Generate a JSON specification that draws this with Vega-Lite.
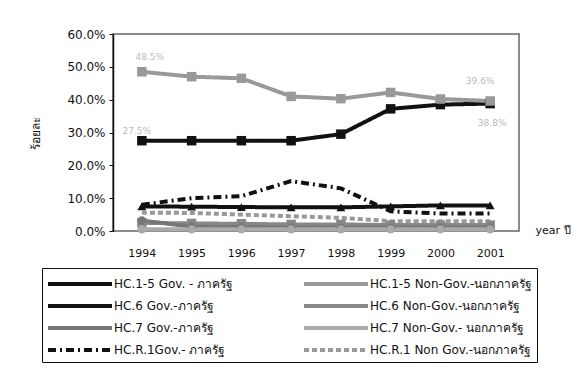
{
  "$schema": "https://vega.github.io/schema/vega-lite/v6.json",
  "autosize": "none",
  "width": 406,
  "height": 197,
  "padding": {"left": 113, "top": 34, "right": 60, "bottom": 159},
  "background": "white",
  "config": {
    "font": "DejaVu Sans",
    "view": {"stroke": "#666", "strokeWidth": 1.5},
    "axis": {"labelFont": "DejaVu Sans", "titleFont": "DejaVu Sans", "grid": false}
  },
  "data": {
    "values": [
      {"year": "1994", "series": "HC.1-5 Gov. - ภาครัฐ", "value": 27.5},
      {"year": "1995", "series": "HC.1-5 Gov. - ภาครัฐ", "value": 27.5},
      {"year": "1996", "series": "HC.1-5 Gov. - ภาครัฐ", "value": 27.5},
      {"year": "1997", "series": "HC.1-5 Gov. - ภาครัฐ", "value": 27.5},
      {"year": "1998", "series": "HC.1-5 Gov. - ภาครัฐ", "value": 29.5},
      {"year": "1999", "series": "HC.1-5 Gov. - ภาครัฐ", "value": 37.2},
      {"year": "2000", "series": "HC.1-5 Gov. - ภาครัฐ", "value": 38.5},
      {"year": "2001", "series": "HC.1-5 Gov. - ภาครัฐ", "value": 38.8},
      {"year": "1994", "series": "HC.1-5 Non-Gov.-นอกภาครัฐ", "value": 48.5},
      {"year": "1995", "series": "HC.1-5 Non-Gov.-นอกภาครัฐ", "value": 47.0},
      {"year": "1996", "series": "HC.1-5 Non-Gov.-นอกภาครัฐ", "value": 46.5},
      {"year": "1997", "series": "HC.1-5 Non-Gov.-นอกภาครัฐ", "value": 41.0},
      {"year": "1998", "series": "HC.1-5 Non-Gov.-นอกภาครัฐ", "value": 40.3},
      {"year": "1999", "series": "HC.1-5 Non-Gov.-นอกภาครัฐ", "value": 42.2},
      {"year": "2000", "series": "HC.1-5 Non-Gov.-นอกภาครัฐ", "value": 40.2},
      {"year": "2001", "series": "HC.1-5 Non-Gov.-นอกภาครัฐ", "value": 39.6},
      {"year": "1994", "series": "HC.6 Gov.-ภาครัฐ", "value": 7.5},
      {"year": "1995", "series": "HC.6 Gov.-ภาครัฐ", "value": 7.4},
      {"year": "1996", "series": "HC.6 Gov.-ภาครัฐ", "value": 7.3},
      {"year": "1997", "series": "HC.6 Gov.-ภาครัฐ", "value": 7.2},
      {"year": "1998", "series": "HC.6 Gov.-ภาครัฐ", "value": 7.2},
      {"year": "1999", "series": "HC.6 Gov.-ภาครัฐ", "value": 7.5},
      {"year": "2000", "series": "HC.6 Gov.-ภาครัฐ", "value": 7.8},
      {"year": "2001", "series": "HC.6 Gov.-ภาครัฐ", "value": 7.8},
      {"year": "1994", "series": "HC.6 Non-Gov.-นอกภาครัฐ", "value": 2.5},
      {"year": "1995", "series": "HC.6 Non-Gov.-นอกภาครัฐ", "value": 2.3},
      {"year": "1996", "series": "HC.6 Non-Gov.-นอกภาครัฐ", "value": 2.2},
      {"year": "1997", "series": "HC.6 Non-Gov.-นอกภาครัฐ", "value": 2.0},
      {"year": "1998", "series": "HC.6 Non-Gov.-นอกภาครัฐ", "value": 2.0},
      {"year": "1999", "series": "HC.6 Non-Gov.-นอกภาครัฐ", "value": 1.8},
      {"year": "2000", "series": "HC.6 Non-Gov.-นอกภาครัฐ", "value": 1.8},
      {"year": "2001", "series": "HC.6 Non-Gov.-นอกภาครัฐ", "value": 1.8},
      {"year": "1994", "series": "HC.7 Gov.-ภาครัฐ", "value": 3.2},
      {"year": "1995", "series": "HC.7 Gov.-ภาครัฐ", "value": 1.3},
      {"year": "1996", "series": "HC.7 Gov.-ภาครัฐ", "value": 1.2},
      {"year": "1997", "series": "HC.7 Gov.-ภาครัฐ", "value": 1.0},
      {"year": "1998", "series": "HC.7 Gov.-ภาครัฐ", "value": 1.0},
      {"year": "1999", "series": "HC.7 Gov.-ภาครัฐ", "value": 1.0},
      {"year": "2000", "series": "HC.7 Gov.-ภาครัฐ", "value": 1.0},
      {"year": "2001", "series": "HC.7 Gov.-ภาครัฐ", "value": 1.0},
      {"year": "1994", "series": "HC.7 Non-Gov.- นอกภาครัฐ", "value": 0.5},
      {"year": "1995", "series": "HC.7 Non-Gov.- นอกภาครัฐ", "value": 0.5},
      {"year": "1996", "series": "HC.7 Non-Gov.- นอกภาครัฐ", "value": 0.5},
      {"year": "1997", "series": "HC.7 Non-Gov.- นอกภาครัฐ", "value": 0.5},
      {"year": "1998", "series": "HC.7 Non-Gov.- นอกภาครัฐ", "value": 0.5},
      {"year": "1999", "series": "HC.7 Non-Gov.- นอกภาครัฐ", "value": 0.5},
      {"year": "2000", "series": "HC.7 Non-Gov.- นอกภาครัฐ", "value": 0.5},
      {"year": "2001", "series": "HC.7 Non-Gov.- นอกภาครัฐ", "value": 0.5},
      {"year": "1994", "series": "HC.R.1Gov.- ภาครัฐ", "value": 8.0},
      {"year": "1995", "series": "HC.R.1Gov.- ภาครัฐ", "value": 10.0},
      {"year": "1996", "series": "HC.R.1Gov.- ภาครัฐ", "value": 10.6},
      {"year": "1997", "series": "HC.R.1Gov.- ภาครัฐ", "value": 15.2},
      {"year": "1998", "series": "HC.R.1Gov.- ภาครัฐ", "value": 13.0},
      {"year": "1999", "series": "HC.R.1Gov.- ภาครัฐ", "value": 6.0},
      {"year": "2000", "series": "HC.R.1Gov.- ภาครัฐ", "value": 5.3},
      {"year": "2001", "series": "HC.R.1Gov.- ภาครัฐ", "value": 5.3},
      {"year": "1994", "series": "HC.R.1 Non Gov.-นอกภาครัฐ", "value": 5.6},
      {"year": "1995", "series": "HC.R.1 Non Gov.-นอกภาครัฐ", "value": 5.5},
      {"year": "1996", "series": "HC.R.1 Non Gov.-นอกภาครัฐ", "value": 5.0},
      {"year": "1997", "series": "HC.R.1 Non Gov.-นอกภาครัฐ", "value": 4.5},
      {"year": "1998", "series": "HC.R.1 Non Gov.-นอกภาครัฐ", "value": 4.0},
      {"year": "1999", "series": "HC.R.1 Non Gov.-นอกภาครัฐ", "value": 3.0},
      {"year": "2000", "series": "HC.R.1 Non Gov.-นอกภาครัฐ", "value": 3.0},
      {"year": "2001", "series": "HC.R.1 Non Gov.-นอกภาครัฐ", "value": 3.0}
    ]
  },
  "encoding": {
    "x": {
      "field": "year", "type": "ordinal",
      "scale": {"type": "point", "padding": 0.58},
      "axis": {
        "labelAngle": 0, "labelFontSize": 11, "labelColor": "#111", "labelPadding": 16,
        "domain": false, "ticks": false,
        "title": "year ปี", "titleFontSize": 11, "titleFontWeight": "normal", "titleColor": "#111",
        "titleAlign": "left", "titleBaseline": "middle", "titleX": 422, "titleY": -1, "titleAngle": 0
      }
    },
    "y": {
      "field": "value", "type": "quantitative",
      "scale": {"domain": [0, 60], "nice": false},
      "axis": {
        "values": [0, 10, 20, 30, 40, 50, 60],
        "labelExpr": "format(datum.value, '.1f') + '%'",
        "labelFontSize": 12, "labelColor": "#111", "labelPadding": 4,
        "domainColor": "#111", "domainWidth": 1.5, "tickColor": "#111", "tickSize": 4,
        "title": "ร้อยละ", "titleFontSize": 12, "titleFontWeight": "normal", "titleColor": "#111",
        "titlePadding": 24
      }
    },
    "color": {
      "field": "series", "type": "nominal",
      "scale": {
        "domain": ["HC.1-5 Gov. - ภาครัฐ", "HC.1-5 Non-Gov.-นอกภาครัฐ", "HC.6 Gov.-ภาครัฐ", "HC.6 Non-Gov.-นอกภาครัฐ", "HC.7 Gov.-ภาครัฐ", "HC.7 Non-Gov.- นอกภาครัฐ", "HC.R.1Gov.- ภาครัฐ", "HC.R.1 Non Gov.-นอกภาครัฐ"],
        "range": ["#111111", "#999999", "#111111", "#888888", "#777777", "#aaaaaa", "#111111", "#999999"]
      },
      "legend": {
        "orient": "none", "legendX": -71, "legendY": 234, "columns": 2, "direction": "horizontal",
        "title": null, "symbolType": "M-3.2,0H3.2", "symbolSize": 400, "symbolStrokeWidth": 3,
        "symbolOffset": 22, "labelOffset": 22,
        "labelFont": "DejaVu Sans", "labelFontSize": 12, "labelColor": "#111", "labelLimit": 260,
        "columnPadding": 62, "rowPadding": 2, "padding": 4,
        "strokeColor": "#111", "fillColor": "white"
      }
    }
  },
  "layer": [
    {
      "mark": {"type": "line"},
      "encoding": {
        "strokeDash": {
          "field": "series", "type": "nominal",
          "scale": {
            "domain": ["HC.1-5 Gov. - ภาครัฐ", "HC.1-5 Non-Gov.-นอกภาครัฐ", "HC.6 Gov.-ภาครัฐ", "HC.6 Non-Gov.-นอกภาครัฐ", "HC.7 Gov.-ภาครัฐ", "HC.7 Non-Gov.- นอกภาครัฐ", "HC.R.1Gov.- ภาครัฐ", "HC.R.1 Non Gov.-นอกภาครัฐ"],
            "range": [[1, 0], [1, 0], [1, 0], [1, 0], [1, 0], [1, 0], [8, 4, 2, 4], [5, 3]]
          }
        },
        "strokeWidth": {
          "field": "series", "type": "nominal",
          "scale": {
            "domain": ["HC.1-5 Gov. - ภาครัฐ", "HC.1-5 Non-Gov.-นอกภาครัฐ", "HC.6 Gov.-ภาครัฐ", "HC.6 Non-Gov.-นอกภาครัฐ", "HC.7 Gov.-ภาครัฐ", "HC.7 Non-Gov.- นอกภาครัฐ", "HC.R.1Gov.- ภาครัฐ", "HC.R.1 Non Gov.-นอกภาครัฐ"],
            "range": [4, 4, 3, 2.5, 2.5, 2, 2.5, 2]
          }
        }
      }
    },
    {
      "mark": {"type": "point", "shape": "square", "filled": true, "opacity": 1, "size": 90},
      "transform": [{"filter": "indexof(datum.series, 'HC.1-5') == 0 || indexof(datum.series, 'HC.6 Non') == 0"}]
    },
    {
      "mark": {"type": "point", "shape": "triangle-up", "filled": true, "opacity": 1, "size": 80},
      "transform": [{"filter": "indexof(datum.series, 'HC.6 Gov') == 0"}]
    },
    {
      "mark": {"type": "point", "shape": "circle", "filled": true, "opacity": 1, "size": 70},
      "transform": [{"filter": "indexof(datum.series, 'HC.7') == 0"}]
    },
    {
      "data": {"values": [{"year": "1994", "value": 27.5, "label": "27.5%"}]},
      "mark": {"type": "text", "fontSize": 9, "align": "center", "baseline": "middle", "dx": -5, "dy": -10, "color": "#bbbbbb"},
      "encoding": {"x": {"field": "year", "type": "ordinal"}, "y": {"field": "value", "type": "quantitative"}, "text": {"field": "label"}, "color": {"value": "#bbbbbb"}}
    },
    {
      "data": {"values": [{"year": "1994", "value": 48.5, "label": "48.5%"}]},
      "mark": {"type": "text", "fontSize": 9, "align": "center", "baseline": "middle", "dx": 8, "dy": -15, "color": "#bbbbbb"},
      "encoding": {"x": {"field": "year", "type": "ordinal"}, "y": {"field": "value", "type": "quantitative"}, "text": {"field": "label"}, "color": {"value": "#bbbbbb"}}
    },
    {
      "data": {"values": [{"year": "2001", "value": 39.6, "label": "39.6%"}]},
      "mark": {"type": "text", "fontSize": 9, "align": "center", "baseline": "middle", "dx": -10, "dy": -20, "color": "#bbbbbb"},
      "encoding": {"x": {"field": "year", "type": "ordinal"}, "y": {"field": "value", "type": "quantitative"}, "text": {"field": "label"}, "color": {"value": "#bbbbbb"}}
    },
    {
      "data": {"values": [{"year": "2001", "value": 38.8, "label": "38.8%"}]},
      "mark": {"type": "text", "fontSize": 9, "align": "center", "baseline": "middle", "dx": 2, "dy": 19, "color": "#bbbbbb"},
      "encoding": {"x": {"field": "year", "type": "ordinal"}, "y": {"field": "value", "type": "quantitative"}, "text": {"field": "label"}, "color": {"value": "#bbbbbb"}}
    }
  ]
}
